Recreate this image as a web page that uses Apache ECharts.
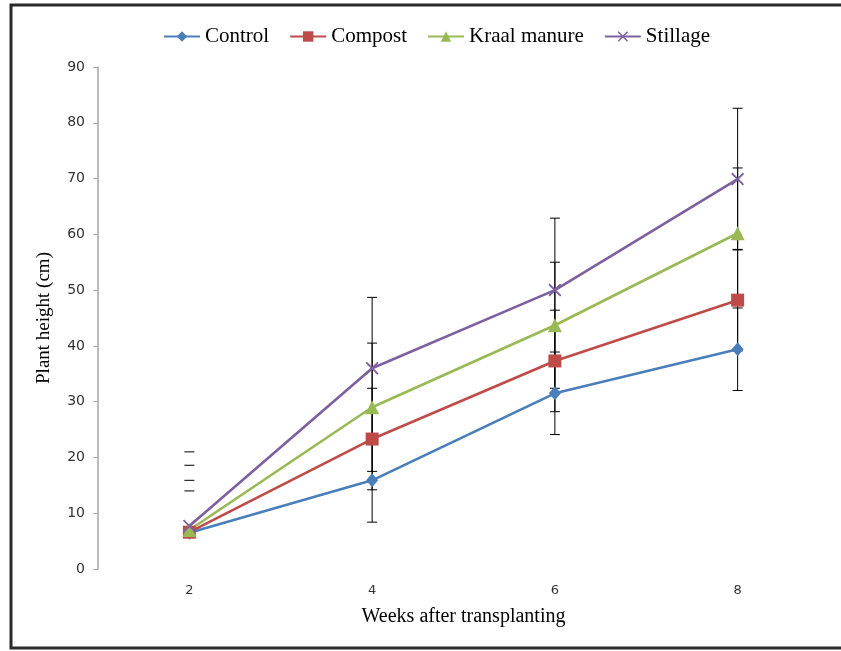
<!DOCTYPE html>
<html>
<head>
<meta charset="utf-8">
<script src="https://cdn.jsdelivr.net/npm/echarts@6/dist/echarts.min.js"></script>
<style>
  html, body { margin: 0; padding: 0; background: #fff; }
  #chart { width: 841px; height: 651px; }
</style>
</head>
<body>
<div id="chart"></div>
<script>
// weeks after transplanting
const weeks = ['2', '4', '6', '8']

// plant height (cm), mean per treatment
const control = [6.5, 15.9, 31.5, 39.4]
const compost = [6.6, 23.3, 37.3, 48.2]
const kraal = [7.0, 29.0, 43.7, 60.2]
const stillage = [7.7, 36.0, 50.0, 69.9]

// error bar half-widths
const controlErr = [7.5, 7.5, 7.4, 7.4]
const compostErr = [9.3, 9.1, 9.1, 9.1]
const kraalErr = [11.6, 11.5, 11.3, 11.7]
const stillageErr = [13.3, 12.7, 12.9, 12.7]

const yTicks = [0, 10, 20, 30, 40, 50, 60, 70, 80, 90]

const serif = '"Liberation Serif", "Times New Roman", serif'
const sans = '"DejaVu Sans", sans-serif'

const crossPath = 'path://M0,1L1,0L10,9L9,10Z M9,0L10,1L1,10L0,9Z'

const treatments = [
  { name: 'Control', values: control, err: controlErr, color: '#4A7EBB', symbol: 'diamond', size: [12, 14] },
  { name: 'Compost', values: compost, err: compostErr, color: '#BE4B48', symbol: 'rect', size: 13 },
  { name: 'Kraal manure', values: kraal, err: kraalErr, color: '#98B954', symbol: 'triangle', size: 14 },
  { name: 'Stillage', values: stillage, err: stillageErr, color: '#7D60A0', symbol: crossPath, size: 13 },
]

const errData = []
treatments.forEach((t) => {
  t.values.forEach((v, i) => {
    errData.push([i, v - t.err[i], v + t.err[i]])
  })
})

const chart = echarts.init(document.getElementById('chart'))

chart.setOption({
  animation: false,
  backgroundColor: '#fff',
  graphic: [{
    type: 'rect',
    shape: { x: 11, y: 5, width: 840, height: 643 },
    style: { fill: 'none', stroke: '#2a2a2a', lineWidth: 3 },
    silent: true,
    z: 100,
  }],
  legend: {
    top: 21,
    left: 158,
    itemWidth: 36,
    itemHeight: 13,
    itemGap: 20,
    textStyle: { fontFamily: serif, fontSize: 21, color: '#000' },
    data: treatments.map((t) => t.name),
  },
  grid: { left: 98, right: 12, top: 67, bottom: 82 },
  xAxis: {
    type: 'category',
    data: weeks,
    boundaryGap: true,
    axisLine: { show: false },
    axisTick: { show: false },
    axisLabel: { fontFamily: sans, fontSize: 13, color: '#333', margin: 15 },
    name: 'Weeks after transplanting',
    nameLocation: 'middle',
    nameGap: 38,
    nameTextStyle: { fontFamily: serif, fontSize: 20, color: '#000' },
  },
  yAxis: {
    type: 'value',
    min: yTicks[0],
    max: yTicks[yTicks.length - 1],
    interval: 10,
    splitLine: { show: false },
    axisLine: { show: true, lineStyle: { color: '#a6a6a6', width: 1.5 } },
    axisTick: { show: true, length: 5, lineStyle: { color: '#a6a6a6' } },
    axisLabel: { fontFamily: sans, fontSize: 14, color: '#333', margin: 13 },
    name: 'Plant height (cm)',
    nameLocation: 'middle',
    nameGap: 44,
    nameTextStyle: { fontFamily: serif, fontSize: 19, color: '#000' },
  },
  series: [
    {
      type: 'custom',
      name: 'err',
      data: errData,
      z: 1,
      silent: true,
      renderItem: (params, api) => {
        const idx = api.value(0)
        const lo = api.value(1)
        const hi = api.value(2)
        const top = api.coord([idx, hi])
        const capW = 5
        const st = { stroke: '#000', lineWidth: 1 }
        const children = [{
          type: 'line',
          shape: { x1: top[0] - capW, y1: top[1], x2: top[0] + capW, y2: top[1] },
          style: st,
        }]
        // bars running below the axis floor show only their upper cap
        if (lo >= 0) {
          const bot = api.coord([idx, lo])
          children.push({
            type: 'line',
            shape: { x1: top[0], y1: top[1], x2: bot[0], y2: bot[1] },
            style: st,
          })
          children.push({
            type: 'line',
            shape: { x1: bot[0] - capW, y1: bot[1], x2: bot[0] + capW, y2: bot[1] },
            style: st,
          })
        }
        return { type: 'group', children }
      },
    },
    ...treatments.map((t) => ({
      type: 'line',
      name: t.name,
      data: t.values,
      z: 3,
      symbol: t.symbol,
      symbolSize: t.size,
      showAllSymbol: true,
      lineStyle: { color: t.color, width: 2.6 },
      itemStyle: { color: t.color, borderWidth: 0 },
    })),
  ],
})
</script>
</body>
</html>
